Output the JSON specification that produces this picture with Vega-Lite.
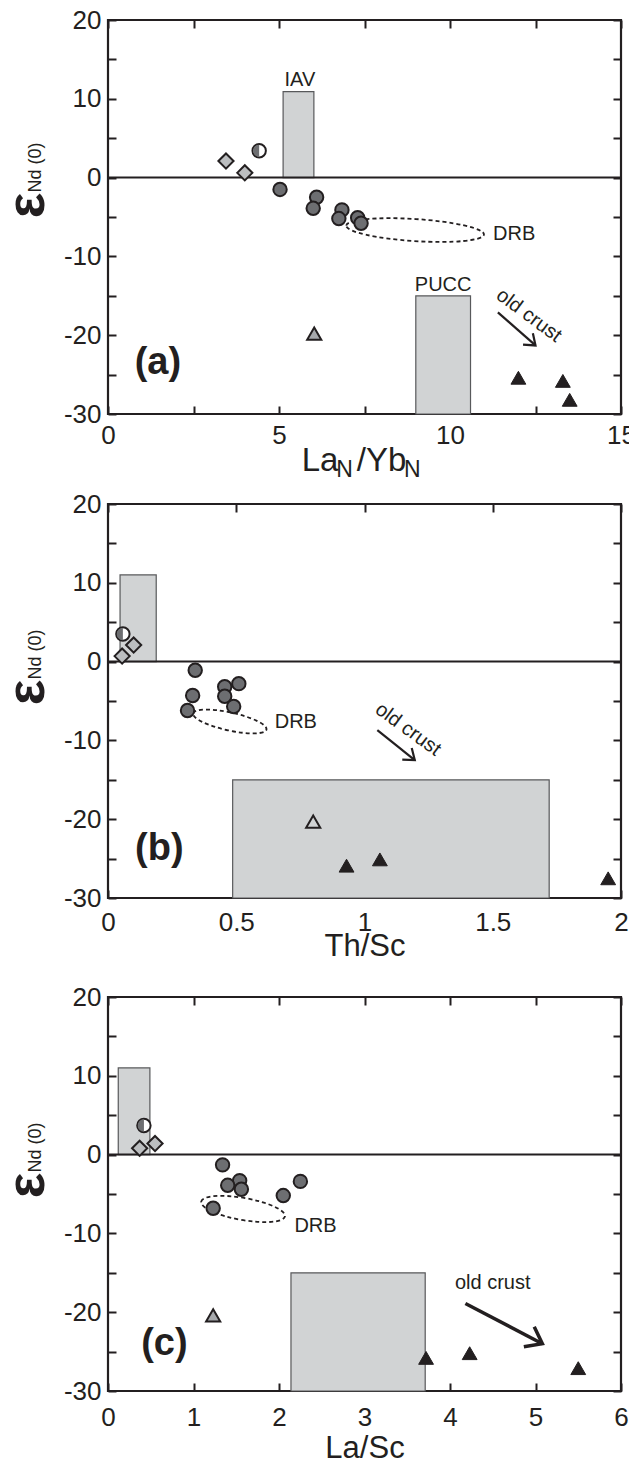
{
  "$schema": "https://vega.github.io/schema/vega-lite/v6.json",
  "background": "white",
  "padding": {"left": -2, "top": 5, "right": 0, "bottom": 0},
  "config": {
    "font": "Liberation Sans",
    "view": {"stroke": "#231f20", "strokeWidth": 2.2},
    "axis": {"domain": false, "grid": false, "tickColor": "#231f20", "tickWidth": 2, "tickSize": -8, "labelFont": "Liberation Sans", "labelFontSize": 26, "labelColor": "#231f20", "titleFont": "Liberation Sans", "titleFontSize": 31, "titleFontWeight": "normal", "titleColor": "#231f20", "labelOverlap": false},
    "axisX": {"labelPadding": 16, "labelFlush": false},
    "axisY": {"labelPadding": 15},
    "text": {"font": "Liberation Sans", "color": "#231f20"}
  },
  "spacing": 6,
  "vconcat": [
    {
      "width": 513, "height": 394,
      "resolve": {"axis": {"x": "independent", "y": "independent"}},
      "layer": [
        {
          "data": {"values": [{"x1": 5.12, "x2": 6.02, "y1": 0, "y2": 10.9}, {"x1": 9.0, "x2": 10.6, "y1": -15, "y2": -30}]},
          "mark": {"type": "rect", "fill": "#d1d3d4", "stroke": "#58595b", "strokeWidth": 1.2},
          "encoding": {
            "x": {"field": "x1", "type": "quantitative", "scale": {"domain": [0, 15], "nice": false, "zero": false},
              "axis": {"orient": "bottom", "values": [0, 2.5, 5, 7.5, 10, 12.5, 15], "labelExpr": "datum.value % 5 === 0 ? '' + datum.value : ''", "title": "La\u00a0\u00a0/Yb", "titleFontSize": 33, "titleX": 245.5, "titleY": 56, "titleAlign": "center", "titleBaseline": "alphabetic"}},
            "x2": {"field": "x2"},
            "y": {"field": "y1", "type": "quantitative", "scale": {"domain": [-30, 20], "nice": false, "zero": false},
              "axis": {"orient": "left", "values": [-30, -25, -20, -15, -10, -5, 0, 5, 10, 15, 20], "labelExpr": "datum.value % 10 === 0 ? '' + datum.value : ''", "title": "ε", "titleX": -65, "titleY": 185, "titleAngle": -90, "titleAlign": "center", "titleBaseline": "alphabetic", "titleFontSize": 54, "titleFontWeight": "bold"}},
            "y2": {"field": "y2"}
          }
        },
        {
          "data": {"values": [{"v": 0}]},
          "mark": {"type": "rule", "stroke": "#231f20", "strokeWidth": 2},
          "encoding": {"y": {"field": "v", "type": "quantitative", "axis": null}}
        },
        {
          "data": {"values": [{"x": 8.98, "y": -6.66}]},
          "mark": {"type": "point", "shape": "M-1,0A1,0.16 0 1,1 1,0A1,0.16 0 1,1 -1,0Z", "size": 19044, "angle": 3.7, "filled": false, "stroke": "#231f20", "strokeWidth": 1.8, "strokeDash": [4, 3], "opacity": 1},
          "encoding": {"x": {"field": "x", "type": "quantitative", "axis": null}, "y": {"field": "y", "type": "quantitative", "axis": null}}
        },
        {
          "data": {"values": [{"x": 11.4, "y": -17.1, "x2": 12.5, "y2": -21.3}]},
          "mark": {"type": "rule", "stroke": "#231f20", "strokeWidth": 2.2},
          "encoding": {"x": {"field": "x", "type": "quantitative", "axis": null}, "y": {"field": "y", "type": "quantitative", "axis": null}, "x2": {"field": "x2"}, "y2": {"field": "y2"}}
        },
        {
          "data": {"values": [{"x": 12.5, "y": -21.3}]},
          "mark": {"type": "point", "shape": "M-1,-0.75L0,0L-1,0.75", "size": 400, "angle": 41, "filled": false, "stroke": "#231f20", "strokeWidth": 2.2, "opacity": 1},
          "encoding": {"x": {"field": "x", "type": "quantitative", "axis": null}, "y": {"field": "y", "type": "quantitative", "axis": null}}
        },
        {
          "data": {"values": [{"x": 3.45, "y": 2.1}, {"x": 4.0, "y": 0.6}]},
          "mark": {"type": "point", "shape": "diamond", "size": 230, "filled": true, "fill": "#bcbec0", "stroke": "#231f20", "strokeWidth": 2, "opacity": 1},
          "encoding": {"x": {"field": "x", "type": "quantitative", "axis": null}, "y": {"field": "y", "type": "quantitative", "axis": null}}
        },
        {
          "data": {"values": [{"x": 4.42, "y": 3.4}]},
          "mark": {"type": "point", "shape": "circle", "size": 180, "filled": true, "fill": "white", "stroke": "#231f20", "strokeWidth": 2, "opacity": 1},
          "encoding": {"x": {"field": "x", "type": "quantitative", "axis": null}, "y": {"field": "y", "type": "quantitative", "axis": null}}
        },
        {
          "data": {"values": [{"x": 4.42, "y": 3.4}]},
          "mark": {"type": "point", "shape": "M0,-1A1,1 0 0,0 0,1Z", "size": 150, "filled": true, "fill": "#6d6e71", "strokeWidth": 0, "opacity": 1},
          "encoding": {"x": {"field": "x", "type": "quantitative", "axis": null}, "y": {"field": "y", "type": "quantitative", "axis": null}}
        },
        {
          "data": {"values": [{"x": 5.03, "y": -1.5}, {"x": 6.1, "y": -2.5}, {"x": 6.0, "y": -3.9}, {"x": 6.84, "y": -4.1}, {"x": 6.75, "y": -5.2}, {"x": 7.3, "y": -5.1}, {"x": 7.4, "y": -5.8}]},
          "mark": {"type": "point", "shape": "circle", "size": 180, "filled": true, "fill": "#6d6e71", "stroke": "#231f20", "strokeWidth": 2, "opacity": 1},
          "encoding": {"x": {"field": "x", "type": "quantitative", "axis": null}, "y": {"field": "y", "type": "quantitative", "axis": null}}
        },
        {
          "data": {"values": [{"x": 6.03, "y": -19.8}]},
          "mark": {"type": "point", "shape": "triangle-up", "size": 200, "filled": true, "fill": "#a7a9ac", "stroke": "#231f20", "strokeWidth": 2, "opacity": 1},
          "encoding": {"x": {"field": "x", "type": "quantitative", "axis": null}, "y": {"field": "y", "type": "quantitative", "axis": null}}
        },
        {
          "data": {"values": [{"x": 12.0, "y": -25.4}, {"x": 13.3, "y": -25.8}, {"x": 13.5, "y": -28.2}]},
          "mark": {"type": "point", "shape": "triangle-up", "size": 220, "filled": true, "fill": "#231f20", "stroke": "#231f20", "strokeWidth": 1, "opacity": 1},
          "encoding": {"x": {"field": "x", "type": "quantitative", "axis": null}, "y": {"field": "y", "type": "quantitative", "axis": null}}
        },
        {
          "data": {"values": [{"x": 5.61, "y": 12.4, "t": "IAV"}, {"x": 9.8, "y": -13.6, "t": "PUCC"}]},
          "mark": {"type": "text", "fontSize": 20, "align": "center", "baseline": "middle"},
          "encoding": {"x": {"field": "x", "type": "quantitative", "axis": null}, "y": {"field": "y", "type": "quantitative", "axis": null}, "text": {"field": "t"}}
        },
        {
          "data": {"values": [{"x": 11.26, "y": -7.2, "t": "DRB"}]},
          "mark": {"type": "text", "fontSize": 20, "align": "left", "baseline": "middle"},
          "encoding": {"x": {"field": "x", "type": "quantitative", "axis": null}, "y": {"field": "y", "type": "quantitative", "axis": null}, "text": {"field": "t"}}
        },
        {
          "data": {"values": [{"x": 12.31, "y": -17.5, "t": "old crust"}]},
          "mark": {"type": "text", "fontSize": 20, "align": "center", "baseline": "middle", "angle": 36.5},
          "encoding": {"x": {"field": "x", "type": "quantitative", "axis": null}, "y": {"field": "y", "type": "quantitative", "axis": null}, "text": {"field": "t"}}
        },
        {
          "data": {"values": [{"x": 1.46, "y": -23.5, "t": "(a)"}]},
          "mark": {"type": "text", "fontSize": 38, "fontWeight": "bold", "align": "center", "baseline": "middle"},
          "encoding": {"x": {"field": "x", "type": "quantitative", "axis": null}, "y": {"field": "y", "type": "quantitative", "axis": null}, "text": {"field": "t"}}
        },
        {
          "data": {"values": [{"x": 0, "y": 0}]},
          "mark": {"type": "point", "opacity": 0},
          "encoding": {
            "x": {"field": "x", "type": "quantitative", "axis": {"orient": "top", "values": [0, 2.5, 5, 7.5, 10, 12.5, 15], "labels": false, "title": "N\u00a0\u00a0\u00a0\u00a0\u00a0\u00a0\u00a0\u00a0N", "titleFontSize": 23, "titleX": 270, "titleY": 456, "titleAlign": "center", "titleBaseline": "alphabetic"}},
            "y": {"field": "y", "type": "quantitative", "axis": {"orient": "right", "values": [-30, -25, -20, -15, -10, -5, 0, 5, 10, 15, 20], "labels": false, "title": "Nd (0)", "titleFontSize": 18, "titleX": -581, "titleY": 147, "titleAngle": -90, "titleAlign": "center", "titleBaseline": "alphabetic"}}
          }
        }
      ]
    },
    {
      "spacing": 19,
      "vconcat": [
        {
          "width": 513, "height": 394,
          "resolve": {"axis": {"x": "independent", "y": "independent"}},
          "layer": [
            {
              "data": {"values": [{"x1": 0.047, "x2": 0.188, "y1": 0, "y2": 11}, {"x1": 0.486, "x2": 1.72, "y1": -15, "y2": -30}]},
              "mark": {"type": "rect", "fill": "#d1d3d4", "stroke": "#58595b", "strokeWidth": 1.2},
              "encoding": {
                "x": {"field": "x1", "type": "quantitative", "scale": {"domain": [0, 2], "nice": false, "zero": false},
                  "axis": {"orient": "bottom", "values": [0, 0.5, 1, 1.5, 2], "labelExpr": "'' + datum.value", "labelPadding": 19, "title": "Th/Sc", "titleX": 256.5, "titleY": 57, "titleAlign": "center", "titleBaseline": "alphabetic"}},
                "x2": {"field": "x2"},
                "y": {"field": "y1", "type": "quantitative", "scale": {"domain": [-30, 20], "nice": false, "zero": false},
                  "axis": {"orient": "left", "values": [-30, -25, -20, -15, -10, -5, 0, 5, 10, 15, 20], "labelExpr": "datum.value % 10 === 0 ? '' + datum.value : ''", "title": "ε", "titleX": -65, "titleY": 188, "titleAngle": -90, "titleAlign": "center", "titleBaseline": "alphabetic", "titleFontSize": 54, "titleFontWeight": "bold"}},
                "y2": {"field": "y2"}
              }
            },
            {
              "data": {"values": [{"v": 0}]},
              "mark": {"type": "rule", "stroke": "#231f20", "strokeWidth": 2},
              "encoding": {"y": {"field": "v", "type": "quantitative", "axis": null}}
            },
            {
              "data": {"values": [{"x": 0.475, "y": -7.6}]},
              "mark": {"type": "point", "shape": "M-1,0A1,0.24 0 1,1 1,0A1,0.24 0 1,1 -1,0Z", "size": 5625, "angle": 12.4, "filled": false, "stroke": "#231f20", "strokeWidth": 1.8, "strokeDash": [4, 3], "opacity": 1},
              "encoding": {"x": {"field": "x", "type": "quantitative", "axis": null}, "y": {"field": "y", "type": "quantitative", "axis": null}}
            },
            {
              "data": {"values": [{"x": 1.05, "y": -8.7, "x2": 1.196, "y2": -12.5}]},
              "mark": {"type": "rule", "stroke": "#231f20", "strokeWidth": 2.2},
              "encoding": {"x": {"field": "x", "type": "quantitative", "axis": null}, "y": {"field": "y", "type": "quantitative", "axis": null}, "x2": {"field": "x2"}, "y2": {"field": "y2"}}
            },
            {
              "data": {"values": [{"x": 1.196, "y": -12.5}]},
              "mark": {"type": "point", "shape": "M-1,-0.75L0,0L-1,0.75", "size": 400, "angle": 39, "filled": false, "stroke": "#231f20", "strokeWidth": 2.2, "opacity": 1},
              "encoding": {"x": {"field": "x", "type": "quantitative", "axis": null}, "y": {"field": "y", "type": "quantitative", "axis": null}}
            },
            {
              "data": {"values": [{"x": 0.1, "y": 2.1}, {"x": 0.055, "y": 0.7}]},
              "mark": {"type": "point", "shape": "diamond", "size": 230, "filled": true, "fill": "#bcbec0", "stroke": "#231f20", "strokeWidth": 2, "opacity": 1},
              "encoding": {"x": {"field": "x", "type": "quantitative", "axis": null}, "y": {"field": "y", "type": "quantitative", "axis": null}}
            },
            {
              "data": {"values": [{"x": 0.058, "y": 3.5}]},
              "mark": {"type": "point", "shape": "circle", "size": 180, "filled": true, "fill": "white", "stroke": "#231f20", "strokeWidth": 2, "opacity": 1},
              "encoding": {"x": {"field": "x", "type": "quantitative", "axis": null}, "y": {"field": "y", "type": "quantitative", "axis": null}}
            },
            {
              "data": {"values": [{"x": 0.058, "y": 3.5}]},
              "mark": {"type": "point", "shape": "M0,-1A1,1 0 0,0 0,1Z", "size": 150, "filled": true, "fill": "#6d6e71", "strokeWidth": 0, "opacity": 1},
              "encoding": {"x": {"field": "x", "type": "quantitative", "axis": null}, "y": {"field": "y", "type": "quantitative", "axis": null}}
            },
            {
              "data": {"values": [{"x": 0.34, "y": -1.1}, {"x": 0.51, "y": -2.8}, {"x": 0.455, "y": -3.2}, {"x": 0.33, "y": -4.3}, {"x": 0.455, "y": -4.4}, {"x": 0.49, "y": -5.7}, {"x": 0.31, "y": -6.2}]},
              "mark": {"type": "point", "shape": "circle", "size": 180, "filled": true, "fill": "#6d6e71", "stroke": "#231f20", "strokeWidth": 2, "opacity": 1},
              "encoding": {"x": {"field": "x", "type": "quantitative", "axis": null}, "y": {"field": "y", "type": "quantitative", "axis": null}}
            },
            {
              "data": {"values": [{"x": 0.8, "y": -20.3}]},
              "mark": {"type": "point", "shape": "triangle-up", "size": 200, "filled": true, "fill": "#d1d3d4", "stroke": "#231f20", "strokeWidth": 2, "opacity": 1},
              "encoding": {"x": {"field": "x", "type": "quantitative", "axis": null}, "y": {"field": "y", "type": "quantitative", "axis": null}}
            },
            {
              "data": {"values": [{"x": 0.93, "y": -25.9}, {"x": 1.06, "y": -25.1}, {"x": 1.95, "y": -27.5}]},
              "mark": {"type": "point", "shape": "triangle-up", "size": 220, "filled": true, "fill": "#231f20", "stroke": "#231f20", "strokeWidth": 1, "opacity": 1},
              "encoding": {"x": {"field": "x", "type": "quantitative", "axis": null}, "y": {"field": "y", "type": "quantitative", "axis": null}}
            },
            {
              "data": {"values": [{"x": 0.65, "y": -7.7, "t": "DRB"}]},
              "mark": {"type": "text", "fontSize": 20, "align": "left", "baseline": "middle"},
              "encoding": {"x": {"field": "x", "type": "quantitative", "axis": null}, "y": {"field": "y", "type": "quantitative", "axis": null}, "text": {"field": "t"}}
            },
            {
              "data": {"values": [{"x": 1.17, "y": -8.6, "t": "old crust"}]},
              "mark": {"type": "text", "fontSize": 20, "align": "center", "baseline": "middle", "angle": 36},
              "encoding": {"x": {"field": "x", "type": "quantitative", "axis": null}, "y": {"field": "y", "type": "quantitative", "axis": null}, "text": {"field": "t"}}
            },
            {
              "data": {"values": [{"x": 0.2, "y": -23.8, "t": "(b)"}]},
              "mark": {"type": "text", "fontSize": 38, "fontWeight": "bold", "align": "center", "baseline": "middle"},
              "encoding": {"x": {"field": "x", "type": "quantitative", "axis": null}, "y": {"field": "y", "type": "quantitative", "axis": null}, "text": {"field": "t"}}
            },
            {
              "data": {"values": [{"x": 0, "y": 0}]},
              "mark": {"type": "point", "opacity": 0},
              "encoding": {
                "x": {"field": "x", "type": "quantitative", "axis": {"orient": "top", "values": [0, 0.5, 1, 1.5, 2], "labels": false, "title": null}},
                "y": {"field": "y", "type": "quantitative", "axis": {"orient": "right", "values": [-30, -25, -20, -15, -10, -5, 0, 5, 10, 15, 20], "labels": false, "title": "Nd (0)", "titleFontSize": 18, "titleX": -581, "titleY": 150, "titleAngle": -90, "titleAlign": "center", "titleBaseline": "alphabetic"}}
              }
            }
          ]
        },
        {
          "width": 513, "height": 394,
          "resolve": {"axis": {"x": "independent", "y": "independent"}},
          "layer": [
            {
              "data": {"values": [{"x1": 0.12, "x2": 0.49, "y1": 0, "y2": 11}, {"x1": 2.14, "x2": 3.71, "y1": -15, "y2": -30}]},
              "mark": {"type": "rect", "fill": "#d1d3d4", "stroke": "#58595b", "strokeWidth": 1.2},
              "encoding": {
                "x": {"field": "x1", "type": "quantitative", "scale": {"domain": [0, 6], "nice": false, "zero": false},
                  "axis": {"orient": "bottom", "values": [0, 1, 2, 3, 4, 5, 6], "labelExpr": "'' + datum.value", "labelPadding": 21, "title": "La/Sc", "titleX": 256.5, "titleY": 66, "titleAlign": "center", "titleBaseline": "alphabetic"}},
                "x2": {"field": "x2"},
                "y": {"field": "y1", "type": "quantitative", "scale": {"domain": [-30, 20], "nice": false, "zero": false},
                  "axis": {"orient": "left", "values": [-30, -25, -20, -15, -10, -5, 0, 5, 10, 15, 20], "labelExpr": "datum.value % 10 === 0 ? '' + datum.value : ''", "title": "ε", "titleX": -65, "titleY": 188, "titleAngle": -90, "titleAlign": "center", "titleBaseline": "alphabetic", "titleFontSize": 54, "titleFontWeight": "bold"}},
                "y2": {"field": "y2"}
              }
            },
            {
              "data": {"values": [{"v": 0}]},
              "mark": {"type": "rule", "stroke": "#231f20", "strokeWidth": 2},
              "encoding": {"y": {"field": "v", "type": "quantitative", "axis": null}}
            },
            {
              "data": {"values": [{"x": 1.58, "y": -6.9}]},
              "mark": {"type": "point", "shape": "M-1,0A1,0.26 0 1,1 1,0A1,0.26 0 1,1 -1,0Z", "size": 7225, "angle": 10, "filled": false, "stroke": "#231f20", "strokeWidth": 1.8, "strokeDash": [4, 3], "opacity": 1},
              "encoding": {"x": {"field": "x", "type": "quantitative", "axis": null}, "y": {"field": "y", "type": "quantitative", "axis": null}}
            },
            {
              "data": {"values": [{"x": 4.18, "y": -18.9, "x2": 5.08, "y2": -24.0}]},
              "mark": {"type": "rule", "stroke": "#231f20", "strokeWidth": 3.5},
              "encoding": {"x": {"field": "x", "type": "quantitative", "axis": null}, "y": {"field": "y", "type": "quantitative", "axis": null}, "x2": {"field": "x2"}, "y2": {"field": "y2"}}
            },
            {
              "data": {"values": [{"x": 5.08, "y": -24.0}]},
              "mark": {"type": "point", "shape": "M-1,-0.75L0,0L-1,0.75", "size": 900, "angle": 27.5, "filled": false, "stroke": "#231f20", "strokeWidth": 3.5, "opacity": 1},
              "encoding": {"x": {"field": "x", "type": "quantitative", "axis": null}, "y": {"field": "y", "type": "quantitative", "axis": null}}
            },
            {
              "data": {"values": [{"x": 0.37, "y": 0.8}, {"x": 0.55, "y": 1.4}]},
              "mark": {"type": "point", "shape": "diamond", "size": 230, "filled": true, "fill": "#bcbec0", "stroke": "#231f20", "strokeWidth": 2, "opacity": 1},
              "encoding": {"x": {"field": "x", "type": "quantitative", "axis": null}, "y": {"field": "y", "type": "quantitative", "axis": null}}
            },
            {
              "data": {"values": [{"x": 0.42, "y": 3.7}]},
              "mark": {"type": "point", "shape": "circle", "size": 180, "filled": true, "fill": "white", "stroke": "#231f20", "strokeWidth": 2, "opacity": 1},
              "encoding": {"x": {"field": "x", "type": "quantitative", "axis": null}, "y": {"field": "y", "type": "quantitative", "axis": null}}
            },
            {
              "data": {"values": [{"x": 0.42, "y": 3.7}]},
              "mark": {"type": "point", "shape": "M0,-1A1,1 0 0,0 0,1Z", "size": 150, "filled": true, "fill": "#6d6e71", "strokeWidth": 0, "opacity": 1},
              "encoding": {"x": {"field": "x", "type": "quantitative", "axis": null}, "y": {"field": "y", "type": "quantitative", "axis": null}}
            },
            {
              "data": {"values": [{"x": 1.34, "y": -1.3}, {"x": 1.54, "y": -3.3}, {"x": 1.4, "y": -3.9}, {"x": 1.56, "y": -4.4}, {"x": 2.25, "y": -3.4}, {"x": 2.05, "y": -5.2}, {"x": 1.23, "y": -6.8}]},
              "mark": {"type": "point", "shape": "circle", "size": 180, "filled": true, "fill": "#6d6e71", "stroke": "#231f20", "strokeWidth": 2, "opacity": 1},
              "encoding": {"x": {"field": "x", "type": "quantitative", "axis": null}, "y": {"field": "y", "type": "quantitative", "axis": null}}
            },
            {
              "data": {"values": [{"x": 1.23, "y": -20.4}]},
              "mark": {"type": "point", "shape": "triangle-up", "size": 200, "filled": true, "fill": "#a7a9ac", "stroke": "#231f20", "strokeWidth": 2, "opacity": 1},
              "encoding": {"x": {"field": "x", "type": "quantitative", "axis": null}, "y": {"field": "y", "type": "quantitative", "axis": null}}
            },
            {
              "data": {"values": [{"x": 3.72, "y": -25.8}, {"x": 4.23, "y": -25.2}, {"x": 5.5, "y": -27.1}]},
              "mark": {"type": "point", "shape": "triangle-up", "size": 220, "filled": true, "fill": "#231f20", "stroke": "#231f20", "strokeWidth": 1, "opacity": 1},
              "encoding": {"x": {"field": "x", "type": "quantitative", "axis": null}, "y": {"field": "y", "type": "quantitative", "axis": null}}
            },
            {
              "data": {"values": [{"x": 2.18, "y": -9.1, "t": "DRB"}]},
              "mark": {"type": "text", "fontSize": 20, "align": "left", "baseline": "middle"},
              "encoding": {"x": {"field": "x", "type": "quantitative", "axis": null}, "y": {"field": "y", "type": "quantitative", "axis": null}, "text": {"field": "t"}}
            },
            {
              "data": {"values": [{"x": 4.5, "y": -16.3, "t": "old crust"}]},
              "mark": {"type": "text", "fontSize": 20, "align": "center", "baseline": "middle"},
              "encoding": {"x": {"field": "x", "type": "quantitative", "axis": null}, "y": {"field": "y", "type": "quantitative", "axis": null}, "text": {"field": "t"}}
            },
            {
              "data": {"values": [{"x": 0.66, "y": -24.0, "t": "(c)"}]},
              "mark": {"type": "text", "fontSize": 38, "fontWeight": "bold", "align": "center", "baseline": "middle"},
              "encoding": {"x": {"field": "x", "type": "quantitative", "axis": null}, "y": {"field": "y", "type": "quantitative", "axis": null}, "text": {"field": "t"}}
            },
            {
              "data": {"values": [{"x": 0, "y": 0}]},
              "mark": {"type": "point", "opacity": 0},
              "encoding": {
                "x": {"field": "x", "type": "quantitative", "axis": {"orient": "top", "values": [0, 1, 2, 3, 4, 5, 6], "labels": false, "title": null}},
                "y": {"field": "y", "type": "quantitative", "axis": {"orient": "right", "values": [-30, -25, -20, -15, -10, -5, 0, 5, 10, 15, 20], "labels": false, "title": "Nd (0)", "titleFontSize": 18, "titleX": -581, "titleY": 150, "titleAngle": -90, "titleAlign": "center", "titleBaseline": "alphabetic"}}
              }
            }
          ]
        }
      ]
    }
  ]
}
